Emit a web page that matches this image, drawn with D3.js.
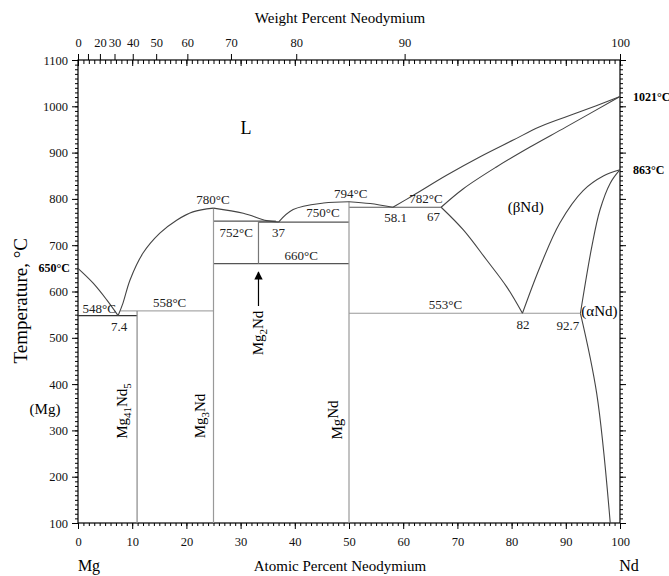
<!DOCTYPE html>
<html>
<head>
<meta charset="utf-8">
<script src="https://cdn.jsdelivr.net/npm/d3@7"></script>
<style>
  body { margin: 0; background: #fff; }
  svg { font-family: 'Liberation Serif', 'Times New Roman', serif; }
  .curve { fill: none; stroke: #444; stroke-width: 1.1; }
  .inv { fill: none; stroke-width: 1.2; }
  .axis path, .axis line { stroke: #000; }
  .lbl { font-size: 13px; fill: #222; }
</style>
</head>
<body>
<svg width="669" height="576"></svg>
<script>
// atomic % Nd, temperature in C
const mgLiquidus = [[0, 650], [2.8, 618], [5.3, 582], [7.4, 548]];
const mg3NdLiquidus = [[7.4, 548], [8.3, 575], [9.6, 625], [12, 683], [15.1, 726], [18.2, 754], [21.2, 772], [25, 780]];
const mg2NdLiquidus = [[25, 780], [30.5, 769], [34.8, 753], [37, 750]];
const mgNdLiquidusL = [[37, 750], [39.7, 777], [45.3, 791], [50, 794]];
const mgNdLiquidusR = [[50, 794], [53.9, 790], [58.1, 782]];
const betaLiquidus = [[58.1, 782], [61.9, 808], [68, 851], [74.2, 891], [80.3, 927], [85.2, 956], [92.6, 988], [100, 1021]];
const betaSolidus = [[67, 782], [71.1, 822], [77.2, 869], [83.4, 912], [90, 955], [100, 1021]];
const betaSolvus = [[67, 782], [71.1, 733], [75.4, 668], [79.1, 610], [82, 553]];
const betaAlphaLow = [[82, 553], [85.2, 652], [88.9, 748], [93.2, 818], [97, 850], [100, 863]];
const betaAlphaHigh = [[100, 863], [98.2, 834], [96.3, 776], [94.8, 697], [92.7, 553]];
const alphaSolvus = [[92.7, 553], [95.7, 380], [98.2, 100]];

// invariant lines: [x1, x2, T]
const horizontals = [
  [0, 10.9, 548, '#333'],
  [7.8, 25, 558, '#aaa'],
  [25, 36.5, 752, '#555'],
  [33.3, 50, 750, '#555'],
  [25, 50, 660, '#555'],
  [50, 67, 782, '#555'],
  [50, 92.7, 553, '#999']
];
// compounds: [x, Ttop, Tbottom]
const verticals = [
  [10.9, 558, 100, '#888'],
  [25, 780, 100, '#999'],
  [33.3, 752, 660, '#777'],
  [50, 794, 100, '#999']
];

const weightTicks = [0, 10, 20, 30, 40, 50, 60, 70, 80, 90, 100];
const weightLabels = ['0', '', '20', '30', '40', '50', '60', '70', '80', '90', '100'];
const atomicTicks = [0, 10, 20, 30, 40, 50, 60, 70, 80, 90, 100];
const tempTicks = [100, 200, 300, 400, 500, 600, 700, 800, 900, 1000, 1100];

const pointLabels = [
  ['548°C', 3.9, 548, 0, -3],
  ['7.4', 7.6, 548, 0, 15],
  ['558°C', 16.9, 558, 0, -4],
  ['780°C', 24.9, 780, 0, -4],
  ['752°C', 29.2, 752, 0, 16],
  ['37', 37, 750, 0, 15],
  ['750°C', 45.2, 752, 0, -4],
  ['660°C', 41.2, 660, 0, -4],
  ['794°C', 50.3, 794, 0, -4],
  ['58.1', 58.6, 782, 0, 15],
  ['782°C', 64.2, 782, 0, -4],
  ['67', 65.6, 782, 0, 14],
  ['553°C', 67.8, 553, 0, -4],
  ['82', 82.1, 553, 0, 16],
  ['92.7', 90.4, 553, 0, 17]
];

const svg = d3.select('svg');
const x = d3.scaleLinear().domain([0, 100]).range([78, 620]);
const y = d3.scaleLinear().domain([100, 1100]).range([523, 60]);

const wtToAt = w => {
  const nd = w / 144.24, mg = (100 - w) / 24.305;
  return 100 * nd / (nd + mg);
};

const styleAxis = g => {
  g.selectAll('.domain').remove();
  g.selectAll('text')
    .attr('font-family', "'Liberation Serif', serif")
    .attr('font-size', 12.5)
    .attr('fill', '#111');
};

// frame
svg.append('rect')
  .attr('x', x(0)).attr('y', y(1100))
  .attr('width', x(100) - x(0)).attr('height', y(100) - y(1100))
  .attr('fill', 'none').attr('stroke', '#000').attr('stroke-width', 1.2);

// bottom axis
const bottomAxisG = svg.append('g').attr('class', 'axis').attr('transform', `translate(0,${y(100)})`);
bottomAxisG.call(d3.axisBottom(x).tickValues(d3.range(0, 101, 1)).tickSize(3).tickFormat(''));
bottomAxisG.append('g').call(d3.axisBottom(x).tickValues(atomicTicks).tickSize(6).tickPadding(8).tickFormat(d3.format('d')));
styleAxis(bottomAxisG);

// top axis (weight percent)
const topAxisG = svg.append('g').attr('class', 'axis').attr('transform', `translate(0,${y(1100)})`);
topAxisG.call(d3.axisBottom(x).tickValues(d3.range(0, 101, 1)).tickSize(4).tickFormat(''));
topAxisG.append('g').call(d3.axisBottom(x).tickValues(atomicTicks).tickSize(6).tickFormat(''));
topAxisG.append('g').call(d3.axisTop(x)
  .tickValues(weightTicks.map(wtToAt))
  .tickSize(6).tickPadding(7)
  .tickFormat((d, i) => weightLabels[i]));
styleAxis(topAxisG);

// left axis
const leftAxisG = svg.append('g').attr('class', 'axis').attr('transform', `translate(${x(0)},0)`);
leftAxisG.call(d3.axisLeft(y).tickValues(d3.range(100, 1101, 10)).tickSize(3).tickFormat(''));
leftAxisG.append('g').call(d3.axisLeft(y).tickValues(tempTicks).tickSize(6).tickPadding(4).tickFormat(d3.format('d')));
styleAxis(leftAxisG);

// right axis
const rightAxisG = svg.append('g').attr('class', 'axis').attr('transform', `translate(${x(100)},0)`);
rightAxisG.call(d3.axisRight(y).tickValues(d3.range(100, 1101, 10)).tickSize(3).tickFormat(''));
rightAxisG.append('g').call(d3.axisRight(y).tickValues(tempTicks).tickSize(6).tickFormat(''));
styleAxis(rightAxisG);

const plot = svg.append('g');

// invariants
plot.selectAll('.h').data(horizontals).enter().append('line')
  .attr('class', 'inv')
  .attr('x1', d => x(d[0])).attr('x2', d => x(d[1]))
  .attr('y1', d => y(d[2])).attr('y2', d => y(d[2]))
  .attr('stroke', d => d[3]);

plot.selectAll('.v').data(verticals).enter().append('line')
  .attr('class', 'inv')
  .attr('x1', d => x(d[0])).attr('x2', d => x(d[0]))
  .attr('y1', d => y(d[1])).attr('y2', d => y(d[2]))
  .attr('stroke', d => d[3]);

// phase boundaries
const lineGen = d3.line()
  .x(d => x(d[0]))
  .y(d => y(d[1]))
  .curve(d3.curveCatmullRom.alpha(0.5));

const curves = [mgLiquidus, mg3NdLiquidus, mg2NdLiquidus, mgNdLiquidusL, mgNdLiquidusR,
  betaLiquidus, betaSolidus, betaSolvus, betaAlphaLow, betaAlphaHigh, alphaSolvus];
plot.selectAll('.curve').data(curves).enter().append('path')
  .attr('class', 'curve')
  .attr('d', lineGen);

// point labels
plot.selectAll('.lbl').data(pointLabels).enter().append('text')
  .attr('class', 'lbl')
  .attr('x', d => x(d[1]) + d[3])
  .attr('y', d => y(d[2]) + d[4])
  .attr('text-anchor', 'middle')
  .text(d => d[0]);

// phase labels
svg.append('text').attr('x', 246).attr('y', 134).attr('text-anchor', 'middle')
  .attr('font-size', 18).text('L');
svg.append('text').attr('x', x(82.6)).attr('y', y(772)).attr('text-anchor', 'middle')
  .attr('font-size', 15).text('(βNd)');
svg.append('text').attr('x', x(96.2)).attr('y', y(548)).attr('text-anchor', 'middle')
  .attr('font-size', 15).text('(αNd)');
svg.append('text').attr('x', 45).attr('y', 414).attr('text-anchor', 'middle')
  .attr('font-size', 15).text('(Mg)');

svg.append('text').attr('x', 70).attr('y', y(650) + 4).attr('text-anchor', 'end')
  .attr('font-size', 12).attr('font-weight', 'bold').text('650°C');
svg.append('text').attr('x', 633).attr('y', y(1021) + 4)
  .attr('font-size', 12).attr('font-weight', 'bold').text('1021°C');
svg.append('text').attr('x', 633).attr('y', y(863) + 4)
  .attr('font-size', 12).attr('font-weight', 'bold').text('863°C');

// compound labels (rotated)
const compound = (cx, cy, base, sub, tail) => {
  const t = svg.append('text')
    .attr('transform', `translate(${cx},${cy}) rotate(-90)`)
    .attr('text-anchor', 'middle')
    .attr('font-size', 15);
  t.append('tspan').text(base);
  t.append('tspan').attr('font-size', 11).attr('dy', 4).text(sub);
  t.append('tspan').attr('dy', -4).text(tail[0]);
  if (tail[1]) t.append('tspan').attr('font-size', 11).attr('dy', 4).text(tail[1]);
};
compound(127, 411, 'Mg', '41', ['Nd', '5']);
compound(205, 416, 'Mg', '3', ['Nd']);
compound(263, 333, 'Mg', '2', ['Nd']);
compound(342, 420, 'Mg', '', ['Nd']);

// Mg2Nd arrow
svg.append('defs').append('marker')
  .attr('id', 'arrow').attr('viewBox', '0 0 10 10')
  .attr('refX', 9).attr('refY', 5)
  .attr('markerWidth', 7).attr('markerHeight', 9)
  .attr('orient', 'auto')
  .append('path').attr('d', 'M0,0 L10,5 L0,10 Z').attr('fill', '#000');
svg.append('line')
  .attr('x1', x(33.3)).attr('x2', x(33.3))
  .attr('y1', 306).attr('y2', 272)
  .attr('stroke', '#000').attr('stroke-width', 1.2)
  .attr('marker-end', 'url(#arrow)');

// axis titles
svg.append('text').attr('x', 340).attr('y', 23).attr('text-anchor', 'middle')
  .attr('font-size', 15).text('Weight Percent Neodymium');
svg.append('text').attr('x', 340).attr('y', 571).attr('text-anchor', 'middle')
  .attr('font-size', 15).text('Atomic Percent Neodymium');
svg.append('text').attr('x', 89).attr('y', 571).attr('text-anchor', 'middle')
  .attr('font-size', 16).text('Mg');
svg.append('text').attr('x', 629).attr('y', 571).attr('text-anchor', 'middle')
  .attr('font-size', 16).text('Nd');
svg.append('text')
  .attr('transform', `translate(27,${y(580)}) rotate(-90)`)
  .attr('text-anchor', 'middle')
  .attr('font-size', 19).text('Temperature, °C');
</script>
</body>
</html>
